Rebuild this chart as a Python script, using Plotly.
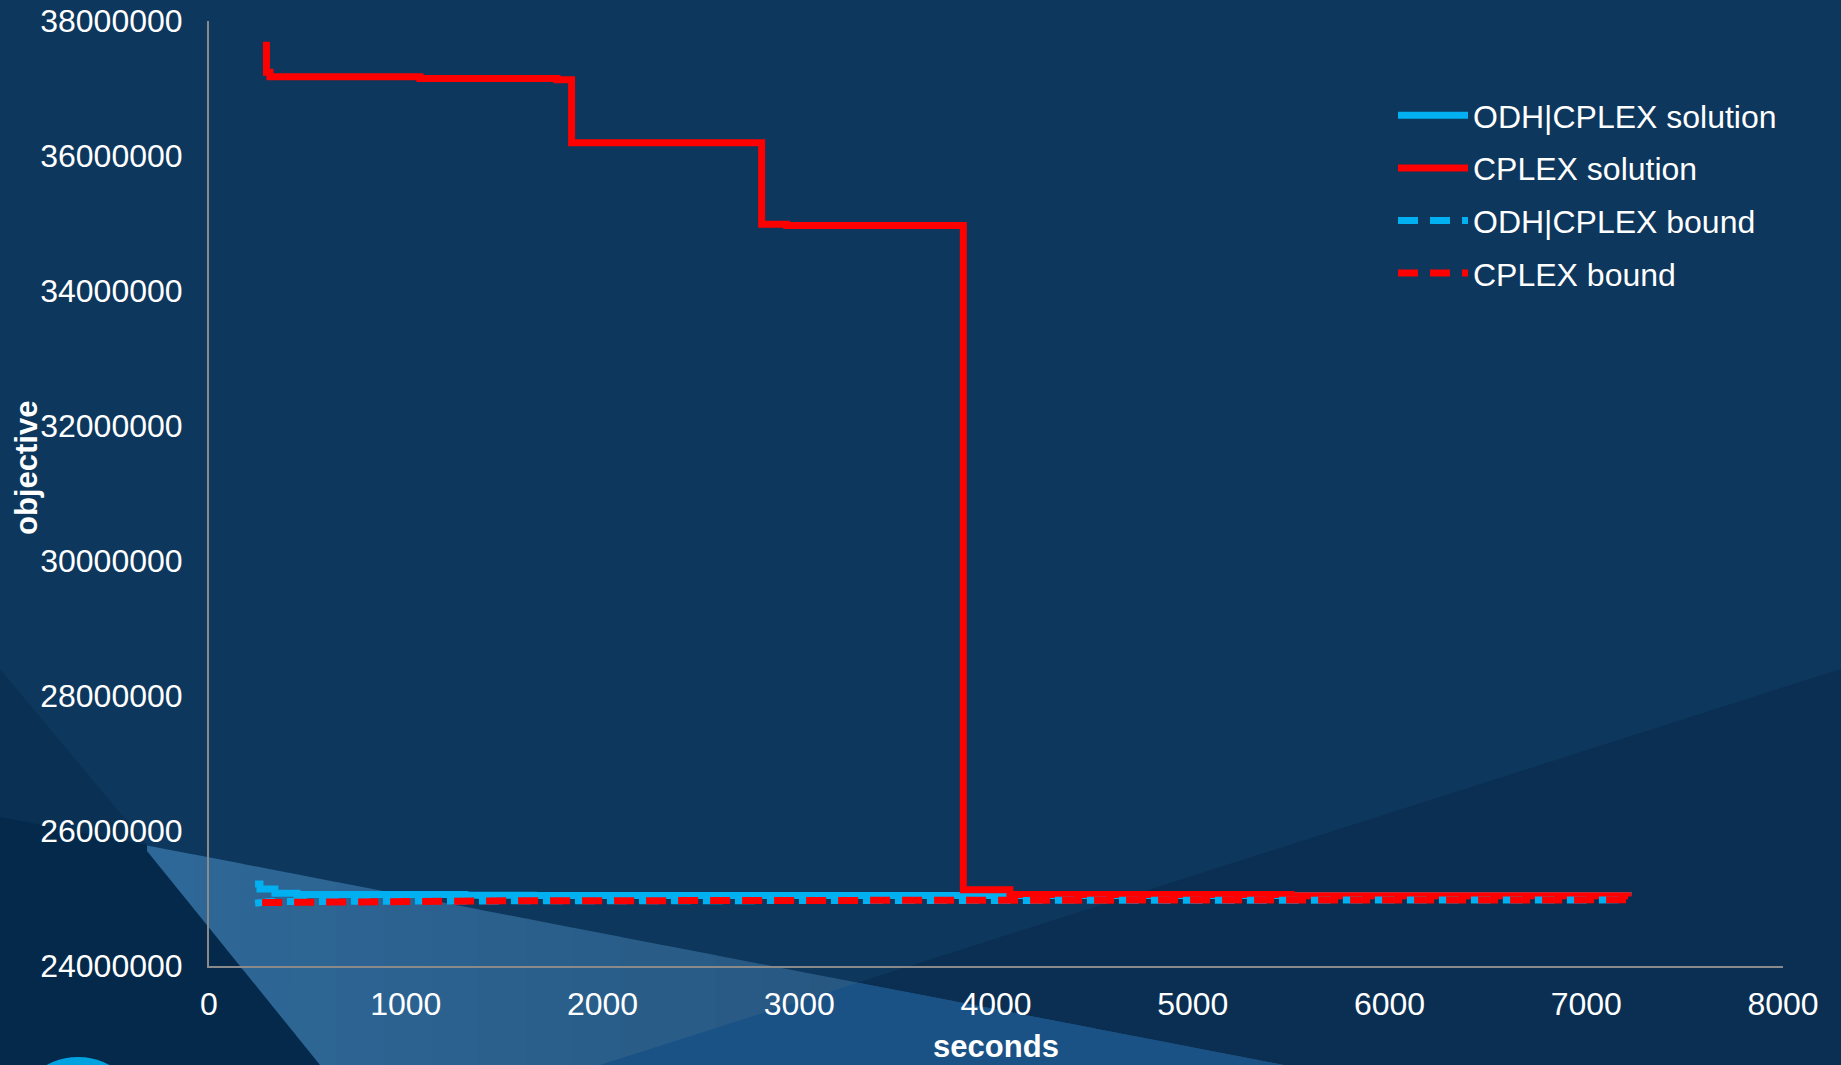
import plotly.graph_objects as go

# ---------------- data ----------------
odh_sol_t = [234, 259, 335, 447, 1300, 1650, 7212]
odh_sol_v = [25215000, 25141000, 25077000, 25060000, 25050000, 25045000, 25040000]

cplex_sol_t = [274, 292, 310, 1072, 1769, 1843, 2809, 2936, 3834, 4071, 5500, 7212]
cplex_sol_v = [37640000, 37240000, 37175000, 37150000, 37130000, 36197000,
               34988000, 34970000, 25128000, 25060000, 25040000, 25030000]

odh_bound_t = [234, 310, 1500, 4000, 7212]
odh_bound_v = [24930000, 24955000, 24965000, 24975000, 24980000]

cplex_bound_t = [270, 1500, 4000, 7212]
cplex_bound_v = [24940000, 24965000, 24975000, 24980000]

series_names = ["ODH|CPLEX solution", "CPLEX solution", "ODH|CPLEX bound", "CPLEX bound"]
x_title = "seconds"
y_title = "objective"

# ---------------- layout constants ----------------
W, H = 1841, 1065
ML, MR, MT, MB = 209, 58, 21, 99
PW, PH = W - ML - MR, H - MT - MB
BLUE = "#00B0F0"
RED = "#FF0000"
BG = "#0D375D"
FONT = "Liberation Sans, Arial, sans-serif"


def px(X, Y):
    return (X - ML) / PW, (H - MB - Y) / PH


def poly(points, color):
    d = ""
    for i, (X, Y) in enumerate(points):
        xp, yp = px(X, Y)
        d += ("M" if i == 0 else "L") + f"{xp:.5f},{yp:.5f} "
    d += "Z"
    return dict(type="path", xref="paper", yref="paper", path=d,
                fillcolor=color, line=dict(width=0), layer="below")


def lerp_col(c1, c2, t):
    a = [int(c1[i:i + 2], 16) for i in (1, 3, 5)]
    b = [int(c2[i:i + 2], 16) for i in (1, 3, 5)]
    return "#" + "".join(f"{round(a[k] + (b[k] - a[k]) * t):02X}" for k in range(3))


shapes = []
# left dark areas
shapes.append(poly([(0, 669), (147, 845), (0, 817)], "#0A3153"))
shapes.append(poly([(0, 817), (147, 845), (320, 1065), (0, 1065)], "#04294B"))
# darker lower-right region
shapes.append(poly([(600, 1065), (1841, 669), (1841, 1065)], "#0A2F52"))


# light beam (gradient approximated by strips)
def L1(X):
    return 669 + (1065 - 669) / 320 * X


def L2(X):
    return 817 + (1065 - 817) / 1284 * X


n = 24
x_start, x_end = 147, 1284
for i in range(n):
    xa = x_start + (x_end - x_start) * i / n
    xb = x_start + (x_end - x_start) * (i + 1) / n + 0.8
    pts = [(xa, L2(xa)), (xb, L2(xb))]
    if xa < 320:
        for X in [xb, min(xb, 320), max(xa, min(xb, 320)), xa]:
            pts.append((X, min(L1(X), 1065)))
    else:
        pts += [(xb, 1065), (xa, 1065)]
    t = i / (n - 1)
    shapes.append(poly(pts, lerp_col("#2E6898", "#234E74", t)))

# intersection of beam and lower-right region
shapes.append(poly([(858, 982.7), (1284, 1065), (600, 1065)], "#1A5286"))

# cyan circle bottom-left
cx, cy, r = 78, 1123, 66
x0, y1 = px(cx - r, cy - r)
x1, y0 = px(cx + r, cy + r)
shapes.append(dict(type="circle", xref="paper", yref="paper", x0=x0, x1=x1, y0=y0, y1=y1,
                   fillcolor="#00A3E0", line=dict(width=0), layer="below"))

# ---------------- traces ----------------
fig = go.Figure()
fig.add_trace(go.Scatter(x=odh_sol_t, y=odh_sol_v, name=series_names[0], mode="lines",
                         line=dict(color=BLUE, width=7, shape="hv"), legendgroup="a"))
fig.add_trace(go.Scatter(x=cplex_sol_t, y=cplex_sol_v, name=series_names[1], mode="lines",
                         line=dict(color=RED, width=7, shape="hv"), legendgroup="b"))
fig.add_trace(go.Scatter(x=odh_bound_t, y=odh_bound_v, name=series_names[2], mode="lines",
                         line=dict(color=BLUE, width=7, dash="20px,12px"), legendgroup="c"))
fig.add_trace(go.Scatter(x=cplex_bound_t, y=cplex_bound_v, name=series_names[3], mode="lines",
                         line=dict(color=RED, width=7, dash="20px,12px"), legendgroup="d"))

axis_common = dict(showgrid=False, zeroline=False, showline=True, linecolor="#8A8A8A",
                   linewidth=2, ticks="", automargin=False,
                   tickfont=dict(size=32, color="white", family=FONT))

ytx, yty = px(26, 468)
fig.update_layout(
    width=W, height=H,
    margin=dict(l=ML, r=MR, t=MT, b=MB, pad=0, autoexpand=False),
    paper_bgcolor=BG, plot_bgcolor="rgba(0,0,0,0)",
    font=dict(family=FONT, color="white"),
    shapes=shapes,
    xaxis=dict(range=[0, 8000], dtick=1000, tick0=0, ticklabelstandoff=9,
               title=dict(text=f"<b>{x_title}</b>", font=dict(size=31, color="white", family=FONT),
                          standoff=14),
               **axis_common),
    yaxis=dict(range=[24000000, 38000000], dtick=2000000, tick0=24000000, tickformat="d",
               ticklabelstandoff=18, **axis_common),
    annotations=[dict(text=f"<b>{y_title}</b>", x=ytx, y=yty, xref="paper", yref="paper",
                      textangle=-90, showarrow=False, xanchor="center", yanchor="middle",
                      font=dict(size=31, color="white", family=FONT))],
    legend=dict(x=(1393 - ML) / PW, y=(H - MB - 88) / PH, xanchor="left", yanchor="top",
                bgcolor="rgba(0,0,0,0)", font=dict(size=32, color="white", family=FONT),
                itemwidth=70, tracegroupgap=8),
    showlegend=True,
)

fig.write_html("out.html", config={"displayModeBar": False},
               post_script="document.body.style.margin='0';document.body.style.padding='0';"
                           "document.documentElement.style.overflow='hidden';")
